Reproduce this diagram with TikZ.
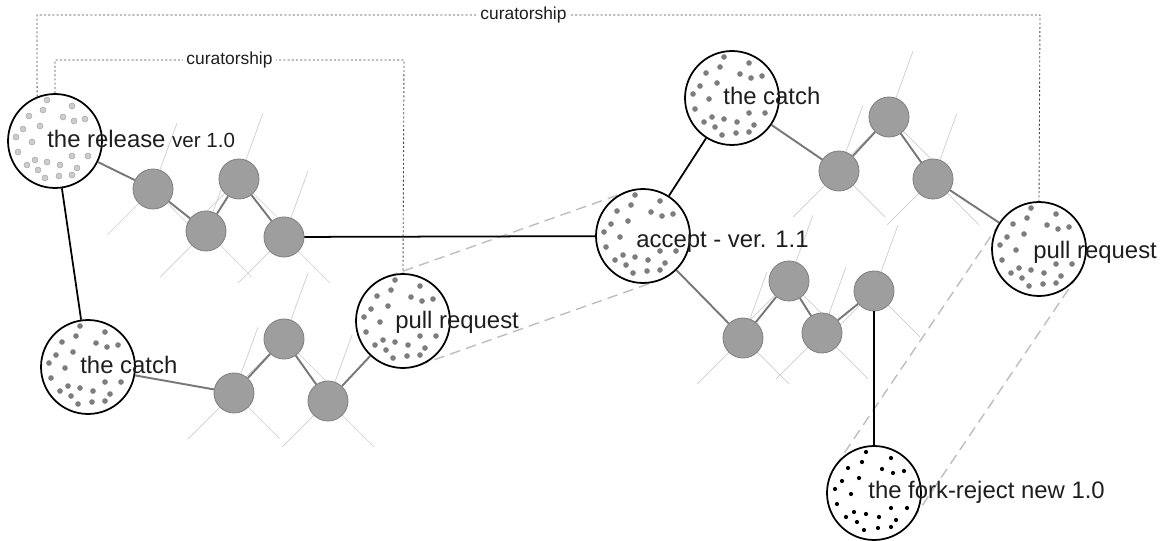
\documentclass[tikz,border=0pt]{standalone}
\usepackage{fontspec}
\setmainfont{Liberation Sans}
\usetikzlibrary{calc,backgrounds}

\definecolor{inkgray}{RGB}{30,30,30}
\definecolor{nodegray}{RGB}{158,158,158}
\definecolor{rimgray}{RGB}{130,130,130}
\definecolor{twiggray}{RGB}{120,120,120}
\definecolor{faintgray}{RGB}{205,205,205}
\definecolor{ghostgray}{RGB}{190,190,190}
\definecolor{speckgray}{RGB}{125,125,125}

\newcommand\dotlist{-8/-41,-12/-31,17/-35,-26/-25,8/-24,19/-20,30/-22,-15/-15,-32/-12,-39/-4,-23/1,-37/11,-28/24,-20/19,-8/21,5/24,17/15,33/15,22/27,-17/29,-10/37,4/35,17/34}
\newcommand\speckle[3]{\foreach \dx/\dy in \dotlist {\path[#2] ($(#1)+(\dx,\dy)$) circle (#3);}}

\begin{document}
\begin{tikzpicture}[
    x=0.02cm, y=-0.02cm,
    big/.style={circle, draw=black, line width=1pt, fill=white, minimum size=1.88cm, inner sep=0pt},
    small/.style={circle, draw=rimgray, line width=0.5pt, fill=nodegray, minimum size=0.8cm, inner sep=0pt},
    twig/.style={draw=twiggray, line width=1.1pt},
    bond/.style={draw=black, line width=1pt},
    faint/.style={draw=faintgray, line width=0.4pt},
    ghost/.style={draw=ghostgray, line width=0.8pt, dash pattern=on 6pt off 3.5pt},
    cur/.style={draw=inkgray!80, line width=0.5pt, dash pattern=on 1.2pt off 1.2pt},
    lab/.style={anchor=base west, inner sep=0pt, text=inkgray, font=\fontsize{13.6}{16}\selectfont},
    curlab/.style={fill=white, inner sep=2pt, text=inkgray, font=\fontsize{9.9}{12}\selectfont}
]
\useasboundingbox (0,0) rectangle (1164,541);

\node[big] (rel) at (55,141) {};
\node[big] (catchl) at (88,367) {};
\node[big] (pullm) at (403,321) {};
\node[big] (acc) at (643,236) {};
\node[big] (catchr) at (732,98) {};
\node[big] (pullr) at (1039,249) {};
\node[big] (fork) at (874,493) {};

\node[small] (a1) at (153,189) {};
\node[small] (a2) at (206,231) {};
\node[small] (a3) at (239,179) {};
\node[small] (a4) at (284,237) {};
\node[small] (b1) at (234,393) {};
\node[small] (b2) at (284,339) {};
\node[small] (b3) at (328,401) {};
\node[small] (c1) at (839,171) {};
\node[small] (c2) at (889,117) {};
\node[small] (c3) at (933,179) {};
\node[small] (d1) at (743,338) {};
\node[small] (d2) at (789,281) {};
\node[small] (d3) at (822,333) {};
\node[small] (d4) at (874,291) {};

\begin{scope}[on background layer]
\foreach \n in {a1,a2,a3,a4,b1,b2,b3,c1,c2,c3,d1,d2,d3,d4} {
    \draw[faint] (\n.center) -- ++(70:1.4cm);
    \draw[faint] (\n.center) -- ++(225:1.3cm);
    \draw[faint] (\n.center) -- ++(315:1.3cm);
}
\draw[ghost] ($(pullm.center)!0.94cm!90:(acc.center)$) -- ($(acc.center)!0.94cm!-90:(pullm.center)$);
\draw[ghost] ($(pullm.center)!0.94cm!-90:(acc.center)$) -- ($(acc.center)!0.94cm!90:(pullm.center)$);
\draw[ghost] ($(pullr.center)!0.94cm!90:(fork.center)$) -- ($(fork.center)!0.94cm!-90:(pullr.center)$);
\draw[ghost] ($(pullr.center)!0.94cm!-90:(fork.center)$) -- ($(fork.center)!0.94cm!90:(pullr.center)$);
\end{scope}

\speckle{rel}{fill=gray!40, draw=gray!65, line width=0.3pt}{1.7pt}
\speckle{catchl}{fill=speckgray}{1.6pt}
\speckle{pullm}{fill=speckgray}{1.6pt}
\speckle{acc}{fill=speckgray}{1.6pt}
\speckle{catchr}{fill=speckgray}{1.6pt}
\speckle{pullr}{fill=speckgray}{1.6pt}
\speckle{fork}{fill=black}{1.2pt}

\draw[twig] (rel) -- (a1);
\draw[twig] (a1) -- (a2);
\draw[twig] (a2) -- (a3);
\draw[twig] (a3) -- (a4);
\draw[twig] (catchl) -- (b1);
\draw[twig] (b1) -- (b2);
\draw[twig] (b2) -- (b3);
\draw[twig] (b3) -- (pullm);
\draw[twig] (catchr) -- (c1);
\draw[twig] (c1) -- (c2);
\draw[twig] (c2) -- (c3);
\draw[twig] (c3) -- (pullr);
\draw[twig] (acc) -- (d1);
\draw[twig] (d1) -- (d2);
\draw[twig] (d2) -- (d3);
\draw[twig] (d3) -- (d4);

\draw[bond] (rel) -- (catchl);
\draw[bond] (a4) -- (acc);
\draw[bond] (acc) -- (catchr);
\draw[bond] (d4) -- (fork);

\coordinate (o1) at (37,15);
\coordinate (o2) at (1040,15);
\coordinate (i1) at (55,60);
\coordinate (i2) at (404,60);
\draw[cur] (rel.112) -- (o1) -- node[curlab, pos=0.485] {curatorship} (o2) -- (pullr.north);
\draw[cur] (rel.north) -- (i1) -- node[curlab] {curatorship} (i2) -- (pullm.north);

\node[lab] (reltxt) at (47,147) {the release {\fontsize{11.7}{14}\selectfont ver 1.0}};
\node[lab] (catchltxt) at (80,373) {the catch};
\node[lab] (pullmtxt) at (395,328) {pull request};
\node[lab] (acctxt) at (636,247) {accept - ver. 1.1};
\node[lab] (catchrtxt) at (723,104) {the catch};
\node[lab] (pullrtxt) at (1033,258) {pull request};
\node[lab] (forktxt) at (868,498) {the fork-reject new 1.0};
\end{tikzpicture}
\end{document}
